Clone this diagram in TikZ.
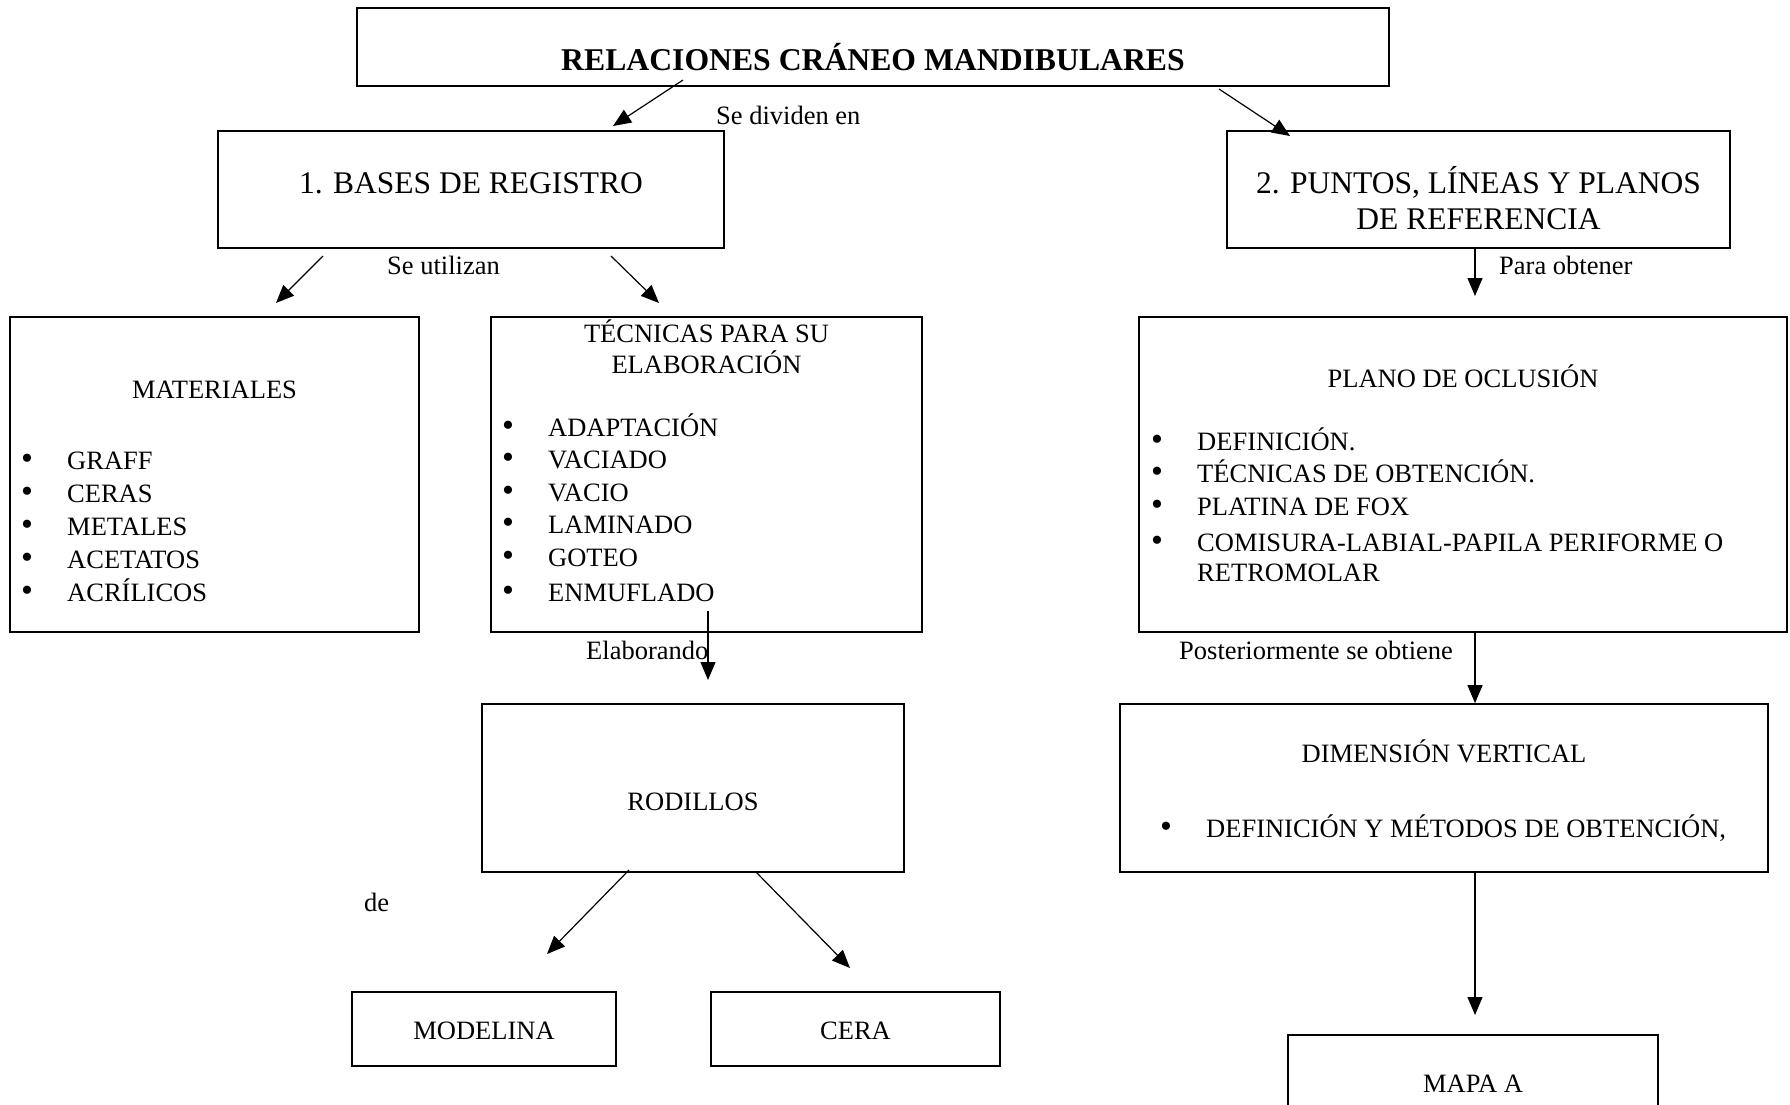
\documentclass[tikz,border=0pt]{standalone}
\usepackage{fontspec}
\setmainfont{Liberation Serif}
\usetikzlibrary{arrows.meta,calc,positioning}
\tikzset{%
	box/.style      = {draw, rectangle, line width=1.7pt, inner sep=0pt}, % Caja
	txt/.style      = {inner sep=0pt, font=\fontsize{26.5}{33}\selectfont},
	big/.style      = {inner sep=0pt, align=center, font=\fontsize{31.5}{36}\selectfont},
	head/.style     = {inner sep=0pt, font=\fontsize{31.7}{36}\selectfont\bfseries},
	lista/.style    = {txt, align=left, anchor=base west},
	waypoint/.style = {coordinate},
	arrow/.style    = {line width=1.2pt, -{Triangle[length=18pt,width=15pt]}},
}
\newcommand{\bul}[1]{\makebox[46pt][l]{\fontsize{34}{33}\selectfont\textbullet}#1}

\begin{document}
\begin{tikzpicture}[x=1pt,y=-1pt]
	\useasboundingbox (0,0) rectangle (1790,1104);
	% cajas
	\node[box,minimum width=1032pt,minimum height=78pt] (rel) at (873,47) {};
	\node[box,minimum width=506pt,minimum height=117pt] (bas) at (471,189.5) {};
	\node[box,minimum width=503pt,minimum height=117pt] (pun) at (1478.5,189.5) {};
	\node[box,minimum width=409pt,minimum height=315pt] (mat) at (214.5,474.5) {};
	\node[box,minimum width=431pt,minimum height=315pt] (tec) at (706.5,474.5) {};
	\node[box,minimum width=648pt,minimum height=315pt] (pla) at (1463,474.5) {};
	\node[box,minimum width=422pt,minimum height=168pt] (rod) at (693,788) {};
	\node[box,minimum width=648pt,minimum height=168pt] (dim) at (1444,788) {};
	\node[box,minimum width=264pt,minimum height=74pt] (mod) at (484,1029) {};
	\node[box,minimum width=289pt,minimum height=74pt] (cer) at (855.5,1029) {};
	\node[box,minimum width=370pt,minimum height=150pt] (map) at (1473,1110) {};
	
	% textos (base = ultima linea)
	\node[head,anchor=base] (relt) at (873,70) {RELACIONES CRÁNEO MANDIBULARES};
	\node[big,anchor=base] (bast) at (471,193.5) {1. BASES DE REGISTRO};
	\node[big,anchor=base] (punt) at (1478.5,229) {2. PUNTOS, LÍNEAS Y PLANOS\\DE REFERENCIA};
	\node[txt,anchor=base] (matt) at (214.5,398) {MATERIALES};
	\node[txt,align=center,anchor=base,font=\fontsize{26.5}{31}\selectfont] (tect) at (706.5,373) {TÉCNICAS PARA SU\\ELABORACIÓN};
	\node[txt,anchor=base] (plat) at (1463,387) {PLANO DE OCLUSIÓN};
	\node[txt,anchor=base] (dimt) at (1444,762) {DIMENSIÓN VERTICAL};
	\node[txt,anchor=base] (rodt) at (693,810) {RODILLOS};
	\node[txt,anchor=base] (modt) at (484,1039) {MODELINA};
	\node[txt,anchor=base] (cert) at (855.5,1039) {CERA};
	\node[txt,anchor=base] (mapt) at (1473,1092) {MAPA A};
	
	% listas
	\node[lista] (matl) at (21,601) {\bul{GRAFF}\\\bul{CERAS}\\\bul{METALES}\\\bul{ACETATOS}\\\bul{ACRÍLICOS}};
	\node[lista,font=\fontsize{26.5}{32.5}\selectfont] (tecl) at (502,601) {\bul{ADAPTACIÓN}\\\bul{VACIADO}\\\bul{VACIO}\\\bul{LAMINADO}\\\bul{GOTEO}\\[2.5pt]\bul{ENMUFLADO}};
	\node[lista,font=\fontsize{26.5}{32.5}\selectfont] (plal) at (1151,581) {\bul{DEFINICIÓN.}\\\bul{TÉCNICAS DE OBTENCIÓN.}\\\bul{PLATINA DE FOX}\\[3.5pt]\bul{COMISURA-LABIAL-PAPILA PERIFORME O}\\[-2.5pt]\hspace*{46pt}RETROMOLAR};
	\node[lista] (diml) at (1160,837) {\bul{DEFINICIÓN Y MÉTODOS DE OBTENCIÓN,}};
	
	% etiquetas
	\node[txt,anchor=base west] (l1) at (716,124) {Se dividen en};
	\node[txt,anchor=base west] (l2) at (387,274) {Se utilizan};
	\node[txt,anchor=base west] (l3) at (1499,274) {Para obtener};
	\node[txt,anchor=base west] (l4) at (586,659) {Elaborando};
	\node[txt,anchor=base west] (l5) at (1179,659) {Posteriormente se obtiene};
	\node[txt,anchor=base west] (l6) at (364,911) {de};
	
	% flechas
	\node[waypoint] (w1) at (683,80) {};
	\node[waypoint] (w2) at (613,126) {};
	\node[waypoint] (w3) at (1219,89) {};
	\node[waypoint] (w4) at (1290,136) {};
	\node[waypoint] (w5) at (323,256) {};
	\node[waypoint] (w6) at (276,303) {};
	\node[waypoint] (w7) at (611,256) {};
	\node[waypoint] (w8) at (659,303) {};
	\node[waypoint] (w9) at (1475,296) {};
	\node[waypoint] (w10) at (708,611) {};
	\node[waypoint] (w11) at (708,680) {};
	\node[waypoint] (w12) at (1475,1015) {};
	\node[waypoint] (w13) at (629,870) {};
	\node[waypoint] (w14) at (547,954) {};
	\node[waypoint] (w15) at (756,872) {};
	\node[waypoint] (w16) at (850,968) {};
	\draw[arrow] (w1) -- (w2);
	\draw[arrow] (w3) -- (w4);
	\draw[arrow] (w5) -- (w6);
	\draw[arrow] (w7) -- (w8);
	\draw[arrow] (pun.south -| w9) -- (w9);
	\draw[arrow] (w10) -- (w11);
	\draw[arrow] (pla.south -| w9) -- (dim.north -| w9);
	\draw[arrow] (dim.south -| w9) -- (w12);
	\draw[arrow] (w13) -- (w14);
	\draw[arrow] (w15) -- (w16);
\end{tikzpicture}
\end{document}
